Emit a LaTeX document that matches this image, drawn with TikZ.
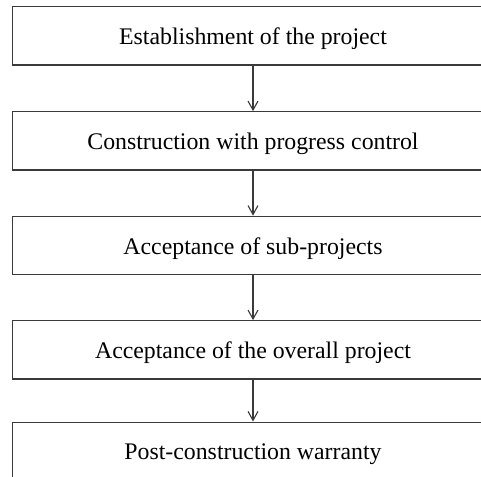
\documentclass[tikz,border=0pt]{standalone}
\usepackage{fontspec}
\setmainfont{Liberation Serif}
\usetikzlibrary{arrows.meta}
\definecolor{linec}{HTML}{3A3A3A}
\begin{document}
\begin{tikzpicture}[x=1pt,y=-1pt,
  stagebox/.style={draw=linec, line width=1.1pt, minimum width=481.4pt, minimum height=58.3pt, inner sep=0pt, text=black, text height=17.5pt, text depth=0pt, font=\fontsize{23.8}{28}\selectfont},
  flowarrow/.style={draw=linec, line width=1.1pt, -{Straight Barb[length=9pt,width=10pt,line width=1.1pt]}}]
\useasboundingbox (0,0) rectangle (481,476);
\clip (0,0) rectangle (481,476);
\node[stagebox] (b1) at (253,35.85) {Establishment of the project};
\node[stagebox] (b2) at (253,140.85) {Construction with progress control};
\node[stagebox] (b3) at (253,245.35) {Acceptance of sub-projects};
\node[stagebox] (b4) at (253,349.85) {Acceptance of the overall project};
\node[stagebox] (b5) at (253,451.2) {Post-construction warranty};
\draw[flowarrow] (b1.south) -- (b2.north);
\draw[flowarrow] (b2.south) -- (b3.north);
\draw[flowarrow] (b3.south) -- (b4.north);
\draw[flowarrow] (b4.south) -- (b5.north);
\end{tikzpicture}
\end{document}
